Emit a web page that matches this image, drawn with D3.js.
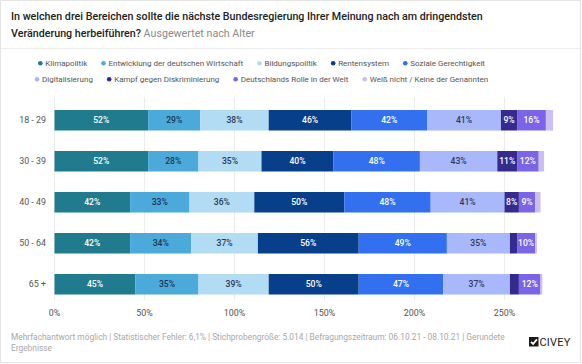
<!DOCTYPE html>
<html><head><meta charset="utf-8">
<script src="https://cdn.jsdelivr.net/npm/d3@7"></script>
<style>
body{margin:0;background:#fff;font-family:Roboto,"Noto Sans",sans-serif;}
svg{display:block;}
</style></head>
<body><svg id="c" width="582" height="364"></svg>
<script>
const categories = ["18 - 29","30 - 39","40 - 49","50 - 64","65 +"];
const seriesNames = ["Klimapolitik","Entwicklung der deutschen Wirtschaft","Bildungspolitik","Rentensystem","Soziale Gerechtigkeit","Digitalisierung","Kampf gegen Diskriminierung","Deutschlands Rolle in der Welt","Weiß nicht / Keine der Genannten"];
const klima = [52,52,42,42,45];
const wirtschaft = [29,28,33,34,35];
const bildung = [38,35,36,37,39];
const rente = [46,40,50,56,50];
const sozial = [42,48,48,49,47];
const digital = [41,43,41,35,37];
const kampf = [9,11,8,4,5];
const rolle = [16,12,9,10,12];
const weissNicht = [4,3,3,1,1];
const xTicks = [0,50,100,150,200,250];
const colors = ["#1f7b8d","#4baad9","#b2dbf4","#083f8b","#3270ef","#a8b8fa","#352b8f","#7b64e6","#c9bff0"];
const labelColors = ["#fff","#1d3557","#2a3a55","#fff","#fff","#2c3a60","#fff","#fff","#fff"];
const seriesValues = [klima,wirtschaft,bildung,rente,sozial,digital,kampf,rolle,weissNicht];

const svg = d3.select("#c");
// card border
svg.append("rect").attr("x",0.5).attr("y",0.5).attr("width",580).attr("height",362)
  .attr("fill","#fff").attr("stroke","#e5e5e5");
svg.append("line").attr("x1",1).attr("x2",580).attr("y1",48.5).attr("y2",48.5).attr("stroke","#ececec");

// title
const t = svg.append("text").attr("x",11).attr("y",20).attr("font-size",10.7).attr("font-weight",500).attr("fill","#222");
t.text("In welchen drei Bereichen sollte die nächste Bundesregierung Ihrer Meinung nach am dringendsten");
const t2 = svg.append("text").attr("x",11).attr("y",36.5).attr("font-size",10.7).attr("fill","#222");
t2.append("tspan").attr("font-weight",500).text("Veränderung herbeiführen? ");
t2.append("tspan").attr("fill","#8a8a8a").text("Ausgewertet nach Alter");

// legend
const legendRows = [[0,1,2,3,4],[5,6,7,8]];
const legendY = [66.3,82.3];
legendRows.forEach((row,ri)=>{
  const g = svg.append("g");
  let x = 0;
  row.forEach(i=>{
    g.append("circle").attr("cx",x+2.3).attr("cy",legendY[ri]-3).attr("r",2.3).attr("fill",colors[i]);
    const tx = g.append("text").attr("x",x+7.3).attr("y",legendY[ri]).attr("font-size",8.0).attr("fill","#555").text(seriesNames[i]);
    x += 7.3 + tx.node().getComputedTextLength() + 14;
  });
  const w = x - 14;
  g.attr("transform",`translate(${261.5 - w/2},0)`);
});

// scales
const x = d3.scaleLinear().domain([0,300]).range([54.5,594.5]);
const y = d3.scaleBand().domain(categories).range([89.5,315]).paddingInner(0.5).paddingOuter(0.5);

// grid
svg.append("g").selectAll("line").data(xTicks).join("line")
  .attr("x1",d=>x(d)).attr("x2",d=>x(d)).attr("y1",97).attr("y2",300)
  .attr("stroke","#ececec");

// stacks
const data = categories.map((c,ci)=>{const o={cat:c}; seriesNames.forEach((s,si)=>o[s]=seriesValues[si][ci]); return o;});
const stack = d3.stack().keys(seriesNames)(data);
stack.forEach((layer,si)=>{
  const g = svg.append("g");
  g.selectAll("rect").data(layer).join("rect")
    .attr("x",d=>x(d[0])).attr("width",d=>x(d[1])-x(d[0]))
    .attr("y",d=>y(d.data.cat)).attr("height",y.bandwidth())
    .attr("fill",colors[si]);
  g.selectAll("text").data(layer.filter(d=>(d[1]-d[0])>=8 && si<8)).join("text")
    .attr("x",d=>(x(d[0])+x(d[1]))/2).attr("y",d=>y(d.data.cat)+y.bandwidth()/2+3.1)
    .attr("text-anchor","middle").attr("font-size",8.6).attr("font-weight",500)
    .attr("fill",labelColors[si]).text(d=>(d[1]-d[0])+"%");
});

// y axis labels
svg.append("g").selectAll("text").data(categories).join("text")
  .attr("x",46).attr("y",d=>y(d)+y.bandwidth()/2+3.2).attr("text-anchor","end")
  .attr("font-size",8.9).attr("fill","#555").text(d=>d);

// x axis labels
svg.append("g").selectAll("text").data(xTicks).join("text")
  .attr("x",d=>x(d)).attr("y",316).attr("text-anchor","middle")
  .attr("font-size",8.9).attr("fill","#555").text(d=>d+"%");

// footer
svg.append("text").attr("x",11).attr("y",340).attr("font-size",8.35).attr("fill","#a8a8a8")
  .text("Mehrfachantwort möglich | Statistischer Fehler: 6,1% | Stichprobengröße: 5.014 | Befragungszeitraum: 06.10.21 - 08.10.21 | Gerundete");
svg.append("text").attr("x",11).attr("y",350.5).attr("font-size",8.35).attr("fill","#a8a8a8").text("Ergebnisse");

// logo
const lg = svg.append("g").attr("transform","translate(529,337)");
lg.append("rect").attr("x",0).attr("y",0).attr("width",9.5).attr("height",9.5).attr("fill","#1a1a1a");
lg.append("path").attr("d","M2,4.9 L4.1,7 L7.9,2.4").attr("stroke","#fff").attr("stroke-width",1.8).attr("fill","none");
lg.append("text").attr("x",10.5).attr("y",9.4).attr("font-size",11).attr("fill","#222").attr("letter-spacing",0.2).text("CIVEY");
</script></body></html>
